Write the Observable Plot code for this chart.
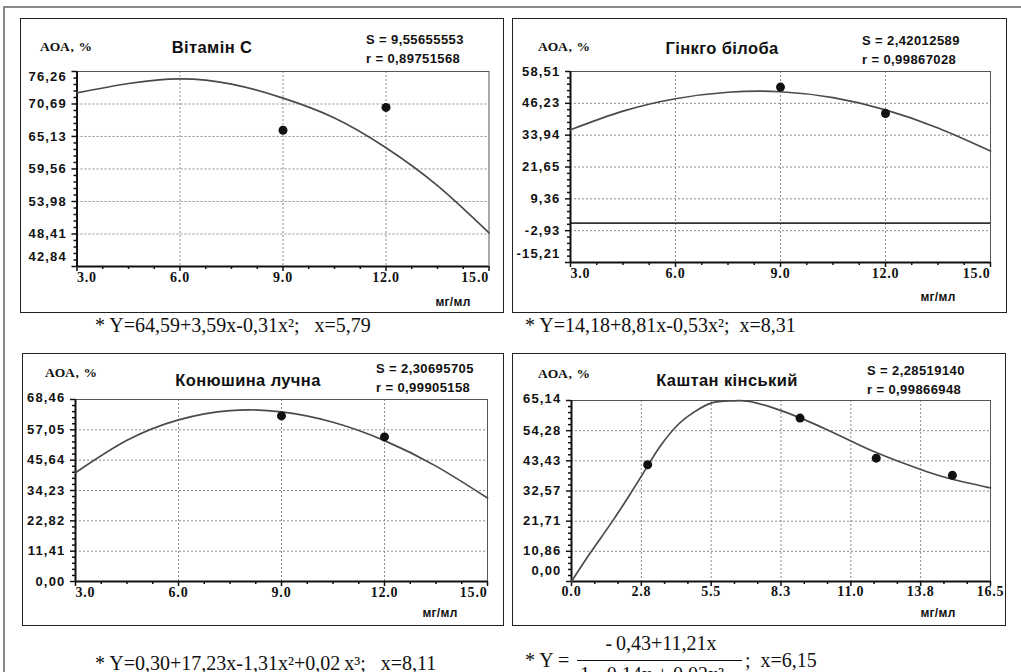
<!DOCTYPE html>
<html>
<head>
<meta charset="utf-8">
<script src="https://cdn.jsdelivr.net/npm/d3@7"></script>
<script src="https://cdn.jsdelivr.net/npm/@observablehq/plot@0.6"></script>
<style>
  html, body { margin: 0; padding: 0; background: #fff; overflow: hidden; }
  #page { position: relative; width: 1021px; height: 672px; overflow: hidden; background: #fff; }
  .outer { position: absolute; left: 3px; top: 6px; width: 1040px; height: 720px; border-left: 2px solid #8a8a8a; border-top: 2px solid #8a8a8a; }
  .box { position: absolute; border: 1.5px solid #222; box-sizing: border-box; }
  .plot { position: absolute; }
  .plot g[aria-label="y-axis tick label"] { font: bold 13px "Liberation Sans", Arial, sans-serif; letter-spacing: 1.2px; fill: #111; }
  .plot g[aria-label="x-axis tick label"] { font: bold 14px "Liberation Serif", "Times New Roman", serif; letter-spacing: 0.8px; fill: #111; }
  .t { position: absolute; white-space: nowrap; line-height: 1; color: #111; }
  .aoa { font: bold 13.5px "Liberation Serif", serif; letter-spacing: 0.6px; transform: translate(0, -50%); }
  .title { font: bold 16.5px "Liberation Sans", Arial, sans-serif; letter-spacing: 0.4px; transform: translate(-50%, -50%); }
  .stat { font: bold 13px "Liberation Sans", Arial, sans-serif; letter-spacing: 0.4px; transform: translate(0, -50%); }
  .unit { font: bold 12px "Liberation Sans", Arial, sans-serif; letter-spacing: 0.3px; transform: translate(-50%, -50%); }
  .formula { font: 20px "Liberation Serif", "Times New Roman", serif; transform: translate(0, -50%); }
  .fbar { position: absolute; height: 1.3px; background: #111; }
</style>
</head>
<body>
<div id="page"><div class="outer"></div></div>
<script>
// ---------- Panel 1: Вітамін С ----------
const vitC_title = "Вітамін С";
const vitC_S = "S = 9,55655553";
const vitC_r = "r = 0,89751568";
const vitC_formula = "* Y=64,59+3,59x-0,31x²;\u00a0\u00a0 x=5,79";
const vitC_xTicks = [3, 6, 9, 12, 15];
const vitC_xLabels = ["3.0", "6.0", "9.0", "12.0", "15.0"];
const vitC_yTicks = [42.84, 48.41, 53.98, 59.56, 65.13, 70.69, 76.26];
const vitC_yLabels = ["42,84", "48,41", "53,98", "59,56", "65,13", "70,69", "76,26"];
const vitC_curveX = [3, 4.5, 6, 7.5, 9, 10.5, 12, 13.5, 15];
const vitC_curveY = [72.6, 74.2, 75.0, 74.1, 71.7, 68.3, 63.2, 56.7, 48.6];
const vitC_ptsX = [9, 12];
const vitC_ptsY = [66.2, 70.1];

// ---------- Panel 2: Гінкго білоба ----------
const gink_title = "Гінкго білоба";
const gink_S = "S = 2,42012589";
const gink_r = "r = 0,99867028";
const gink_formula = "* Y=14,18+8,81x-0,53x²;\u00a0 x=8,31";
const gink_xTicks = [3, 6, 9, 12, 15];
const gink_xLabels = ["3.0", "6.0", "9.0", "12.0", "15.0"];
const gink_yTicks = [-15.21, -2.93, 9.36, 21.65, 33.94, 46.23, 58.51];
const gink_yLabels = ["-15,21", "-2,93", "9,36", "21,65", "33,94", "46,23", "58,51"];
const gink_curveX = [3, 4.5, 6, 7.5, 9, 10.5, 12, 13.5, 15];
const gink_curveY = [36.0, 43.2, 48.0, 50.5, 50.7, 48.4, 43.7, 36.7, 27.8];
const gink_ptsX = [9, 12];
const gink_ptsY = [52.5, 42.3];
const gink_zero = [0];

// ---------- Panel 3: Конюшина лучна ----------
const clov_title = "Конюшина лучна";
const clov_S = "S = 2,30695705";
const clov_r = "r = 0,99905158";
const clov_formula = "* Y=0,30+17,23x-1,31x²+0,02\u2009x³;\u00a0\u00a0 x=8,11";
const clov_xTicks = [3, 6, 9, 12, 15];
const clov_xLabels = ["3.0", "6.0", "9.0", "12.0", "15.0"];
const clov_yTicks = [0, 11.41, 22.82, 34.23, 45.64, 57.05, 68.46];
const clov_yLabels = ["0,00", "11,41", "22,82", "34,23", "45,64", "57,05", "68,46"];
const clov_curveX = [3, 4.5, 6, 7.5, 9, 10.5, 12, 13.5, 15];
const clov_curveY = [40.9, 53.1, 60.8, 64.3, 63.8, 59.9, 53.0, 43.4, 31.4];
const clov_ptsX = [9, 12];
const clov_ptsY = [62.3, 54.4];

// ---------- Panel 4: Каштан кінський ----------
const chest_title = "Каштан кінський";
const chest_S = "S = 2,28519140";
const chest_r = "r = 0,99866948";
const chest_formulaLead = "* Y =";
const chest_formulaNum = "-\u20090,43+11,21x";
const chest_formulaDen = "1 - 0,14x + 0,02x²";
const chest_formulaTail = ";\u00a0 x=6,15";
const chest_xTicks = [0, 2.75, 5.5, 8.25, 11, 13.75, 16.5];
const chest_xLabels = ["0.0", "2.8", "5.5", "8.3", "11.0", "13.8", "16.5"];
const chest_yTicks = [0, 10.86, 21.71, 32.57, 43.43, 54.28, 65.14];
const chest_yLabels = ["0,00", "10,86", "21,71", "32,57", "43,43", "54,28", "65,14"];
const chest_curveX = [0, 0.75, 1.5, 2.25, 3, 3.5, 4.2, 4.8, 5.5, 6.3, 7, 8, 9, 10, 11, 12, 13, 14, 15, 16.5];
const chest_curveY = [0, 10.4, 20.2, 30.6, 41.6, 48.8, 56.5, 60.8, 64.2, 65.0, 64.8, 62.3, 58.9, 54.9, 50.6, 46.4, 42.8, 39.5, 36.8, 33.7];
const chest_ptsX = [3, 9, 12, 15];
const chest_ptsY = [42.0, 58.8, 44.4, 38.2];

// ---------- Helpers ----------
const page = document.getElementById("page");
function addText(cls, text, left, top) {
  const d = document.createElement("div");
  d.className = "t " + cls;
  d.textContent = text;
  d.style.left = left + "px";
  d.style.top = top + "px";
  page.appendChild(d);
  return d;
}
function addBox(left, top, width, height) {
  const d = document.createElement("div");
  d.className = "box";
  Object.assign(d.style, {left: left + "px", top: top + "px", width: width + "px", height: height + "px"});
  page.appendChild(d);
}
function minorTicks(ticks, n) {
  const out = [];
  for (let i = 0; i < ticks.length - 1; i++) {
    for (let k = 1; k < n; k++) out.push(ticks[i] + (ticks[i + 1] - ticks[i]) * k / n);
  }
  return out;
}

function panel(cfg) {
  const curve = cfg.curveX.map((x, i) => ({x, y: cfg.curveY[i]}));
  const pts = cfg.ptsX.map((x, i) => ({x, y: cfg.ptsY[i]}));
  const xt = cfg.xTicks, yt = cfg.yTicks;
  const xFmt = new Map(xt.map((v, i) => [v, cfg.xLabels[i]]));
  const yFmt = new Map(yt.map((v, i) => [v, cfg.yLabels[i]]));
  const x0 = xt[0], x1 = xt[xt.length - 1], y0 = yt[0], y1 = yt[yt.length - 1];
  const gridStyle = {stroke: "#8a8a8a", strokeOpacity: 1, strokeWidth: 1, strokeDasharray: "2,2"};
  const lbl = {label: null, fill: "#111"};
  const marks = [
    Plot.gridX(xt.slice(1, -1), gridStyle),
    Plot.gridY(yt.slice(1, -1), gridStyle),
    Plot.frame({stroke: "#555", strokeWidth: 1}),
  ];
  if (cfg.zero) marks.push(Plot.ruleY(cfg.zero, {stroke: "#333", strokeWidth: 1.6}));
  marks.push(
    Plot.ruleX([x0], {stroke: "#111", strokeWidth: 2}),
    Plot.ruleY([y0], {stroke: "#111", strokeWidth: 2}),
    // minor ticks
    Plot.axisX(minorTicks(xt, cfg.xMinor), {tickSize: 3, strokeWidth: 1.5, stroke: "#111", tickFormat: () => "", label: null}),
    Plot.axisY(minorTicks(yt, 5), {tickSize: 3, strokeWidth: 1.5, stroke: "#111", tickFormat: () => "", label: null}),
    // major ticks
    Plot.axisX(xt, {tickSize: 5, strokeWidth: 1.5, stroke: "#111", tickFormat: () => "", label: null}),
    Plot.axisY(yt, {tickSize: 5, strokeWidth: 1.5, stroke: "#111", tickFormat: () => "", label: null}),
    // x labels
    Plot.axisX(xt.slice(1, -1), {tickSize: 0, tickPadding: cfg.xPad, tickFormat: d => xFmt.get(d), ...lbl}),
    Plot.axisX([x0], {tickSize: 0, tickPadding: cfg.xPad, tickFormat: d => xFmt.get(d), textAnchor: cfg.xFirstAnchor, ...lbl}),
    Plot.axisX([x1], {tickSize: 0, tickPadding: cfg.xPad, tickFormat: d => xFmt.get(d), textAnchor: cfg.xLastAnchor, ...lbl}),
    // y labels
    Plot.axisY(yt.slice(1, -1), {tickSize: 0, tickPadding: 10, tickFormat: d => yFmt.get(d), ...lbl}),
    Plot.axisY([y0], {tickSize: 0, tickPadding: 10, dy: cfg.yFirstDy, tickFormat: d => yFmt.get(d), ...lbl}),
    Plot.axisY([y1], {tickSize: 0, tickPadding: 10, dy: cfg.yLastDy, tickFormat: d => yFmt.get(d), ...lbl}),
    Plot.line(curve, {x: "x", y: "y", curve: "natural", stroke: "#4a4a4a", strokeWidth: 1.7}),
    Plot.dot(pts, {x: "x", y: "y", r: 4.5, fill: "#111", stroke: "none"})
  );
  const svg = Plot.plot({
    width: cfg.width, height: cfg.height,
    marginLeft: cfg.ml, marginRight: cfg.mr, marginTop: cfg.mt, marginBottom: cfg.mb,
    x: {domain: [x0, x1]},
    y: {domain: [y0, y1]},
    style: {background: "transparent", overflow: "visible"},
    marks
  });
  svg.classList.add("plot");
  svg.style.left = cfg.left + "px";
  svg.style.top = cfg.top + "px";
  page.appendChild(svg);
  addBox(cfg.left, cfg.top, cfg.width, cfg.height);
}

// ---------- Panel 1 ----------
panel({left: 20, top: 18, width: 484, height: 295, ml: 56.5, mr: 15.5, mt: 53, mb: 47,
  xTicks: vitC_xTicks, xLabels: vitC_xLabels, yTicks: vitC_yTicks, yLabels: vitC_yLabels,
  curveX: vitC_curveX, curveY: vitC_curveY, ptsX: vitC_ptsX, ptsY: vitC_ptsY,
  xMinor: 4, xPad: 6, xFirstAnchor: "start", xLastAnchor: "end", yFirstDy: -10, yLastDy: 5});
addText("aoa", "АОА, %", 40, 47);
addText("title", vitC_title, 212, 47);
addText("stat", vitC_S, 366, 39);
addText("stat", vitC_r, 366, 58);
addText("unit", "мг/мл", 453, 302);
addText("formula", vitC_formula, 95, 325);

// ---------- Panel 2 ----------
panel({left: 512, top: 18, width: 495, height: 295, ml: 58, mr: 17, mt: 53, mb: 51,
  xTicks: gink_xTicks, xLabels: gink_xLabels, yTicks: gink_yTicks, yLabels: gink_yLabels,
  curveX: gink_curveX, curveY: gink_curveY, ptsX: gink_ptsX, ptsY: gink_ptsY, zero: gink_zero,
  xMinor: 4, xPad: 6, xFirstAnchor: "start", xLastAnchor: "end", yFirstDy: -9, yLastDy: 0});
addText("aoa", "АОА, %", 538, 47);
addText("title", gink_title, 722, 48);
addText("stat", gink_S, 862, 40);
addText("stat", gink_r, 862, 59);
addText("unit", "мг/мл", 938, 297);
addText("formula", gink_formula, 525, 325);

// ---------- Panel 3 ----------
panel({left: 22, top: 353, width: 482, height: 273, ml: 53, mr: 17, mt: 46, mb: 45,
  xTicks: clov_xTicks, xLabels: clov_xLabels, yTicks: clov_yTicks, yLabels: clov_yLabels,
  curveX: clov_curveX, curveY: clov_curveY, ptsX: clov_ptsX, ptsY: clov_ptsY,
  xMinor: 4, xPad: 6, xFirstAnchor: "start", xLastAnchor: "end", yFirstDy: 0, yLastDy: -2});
addText("aoa", "АОА, %", 45, 373);
addText("title", clov_title, 248, 380);
addText("stat", clov_S, 376, 368);
addText("stat", clov_r, 376, 387);
addText("unit", "мг/мл", 440, 613);
addText("formula", clov_formula, 95, 663);

// ---------- Panel 4 ----------
panel({left: 512, top: 353, width: 494, height: 273, ml: 59, mr: 16, mt: 47, mb: 45,
  xTicks: chest_xTicks, xLabels: chest_xLabels, yTicks: chest_yTicks, yLabels: chest_yLabels,
  curveX: chest_curveX, curveY: chest_curveY, ptsX: chest_ptsX, ptsY: chest_ptsY,
  xMinor: 3, xPad: 5, xFirstAnchor: "middle", xLastAnchor: "middle", yFirstDy: -11, yLastDy: -2});
addText("aoa", "АОА, %", 538, 374);
addText("title", chest_title, 727, 380);
addText("stat", chest_S, 867, 370);
addText("stat", chest_r, 867, 389);
addText("unit", "мг/мл", 938, 613);
addText("formula", chest_formulaLead, 525, 660);
const num = addText("formula", chest_formulaNum, 661, 643);
num.style.transform = "translate(-50%, -50%)";
const bar = document.createElement("div");
bar.className = "fbar";
Object.assign(bar.style, {left: "577px", top: "660px", width: "165px"});
page.appendChild(bar);
addText("formula", chest_formulaDen, 580, 674);
addText("formula", chest_formulaTail, 745, 660);
</script>
</body>
</html>
